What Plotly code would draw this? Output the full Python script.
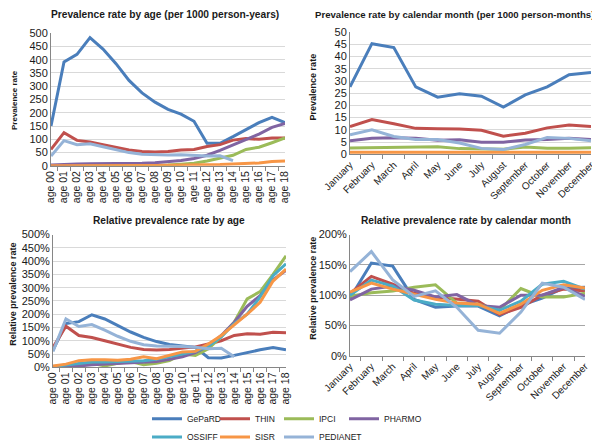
import plotly.graph_objects as go

ages = ["age 00", "age 01", "age 02", "age 03", "age 04", "age 05", "age 06",
        "age 07", "age 08", "age 09", "age 10", "age 11", "age 12", "age 13",
        "age 14", "age 15", "age 16", "age 17", "age 18"]
months = ["January", "February", "March", "April", "May", "June", "July",
          "August", "September", "October", "November", "December"]

# prevalence per 1000 person-years, by age
gepard_age = [150, 392, 420, 483, 440, 385, 322, 275, 240, 213, 195, 168, 85, 85, 110, 137, 163, 183, 163]
thin_age = [62, 125, 96, 90, 80, 70, 60, 54, 52, 54, 60, 62, 73, 80, 97, 103, 100, 105, 105]
ipci_age = [0, 0.5, 1, 1, 1, 1, 1, 1.5, 2, 3, 6, 10, 18, 30, 40, 62, 70, 87, 105]
pharmo_age = [3, 6, 7, 8, 8, 9, 9, 10, 12, 16, 20, 28, 40, 58, 78, 100, 120, 145, 160]
sisr_age = [0, 0.5, 0.5, 0.5, 0.5, 0.5, 0.5, 1, 1, 1.5, 1.5, 2, 3, 5, 7, 9, 11, 16, 18]
pedianet_age = [37, 95, 80, 83, 72, 60, 50, 44, 42, 41, 42, 40, 37, 38, 20, None, None, None, None]

# prevalence per 1000 person-months, by calendar month
gepard_month = [27.6, 45.3, 43.7, 27.6, 23.4, 24.8, 23.8, 19.3, 24.3, 27.6, 32.6, 33.5]
thin_month = [11.3, 14.2, 12.5, 10.6, 10.4, 10.3, 9.8, 7.4, 8.6, 10.8, 12.0, 11.4]
ipci_month = [2.6, 2.7, 2.8, 3.0, 3.1, 2.3, 2.2, 2.0, 3.0, 2.5, 2.5, 2.7]
pharmo_month = [5.5, 6.5, 6.8, 6.5, 5.7, 5.9, 4.9, 4.9, 5.8, 6.0, 6.6, 6.0]
sisr_month = [0.8, 0.8, 0.8, 0.8, 0.8, 0.8, 0.8, 0.8, 0.8, 0.8, 0.8, 0.8]
pedianet_month = [8.0, 10.0, 7.3, 6.0, 6.0, 4.6, 2.4, 1.9, 4.0, 6.9, 6.5, 5.5]

# relative prevalence (%), by age
gepard_rel_age = [65, 165, 172, 198, 182, 158, 133, 113, 97, 86, 80, 75, 36, 35, 45, 56, 66, 75, 66]
thin_rel_age = [75, 155, 120, 112, 100, 87, 75, 67, 65, 67, 73, 77, 88, 100, 120, 126, 125, 132, 130]
ipci_rel_age = [0, 2, 5, 15, 5, 15, 22, 10, 15, 25, 50, 45, 70, 115, 170, 258, 285, 350, 420]
pharmo_rel_age = [2, 3, 5, 10, 12, 15, 18, 20, 22, 30, 40, 55, 80, 120, 170, 230, 270, 330, 365]
ossiff_rel_age = [3, 8, 15, 20, 20, 22, 22, 25, 30, 40, 50, 60, 80, 115, 165, 200, 265, 345, 390]
sisr_rel_age = [5, 12, 25, 28, 28, 27, 30, 40, 32, 45, 58, 60, 88, 120, 160, 200, 245, 325, 370]
pedianet_rel_age = [60, 182, 154, 161, 140, 117, 98, 85, 80, 80, 78, 76, 70, 72, 40, None, None, None, None]

# relative prevalence (%), by calendar month
gepard_rel_month = [95, 153, 148, 93, 80, 82, 82, 66, 83, 95, 112, 113]
thin_rel_month = [103, 131, 118, 103, 97, 94, 90, 68, 80, 100, 110, 107]
ipci_rel_month = [98, 104, 107, 113, 117, 87, 85, 75, 111, 97, 97, 103]
pharmo_rel_month = [92, 110, 115, 108, 97, 101, 83, 80, 100, 100, 113, 98]
ossiff_rel_month = [100, 125, 115, 92, 85, 83, 83, 75, 90, 118, 123, 110]
sisr_rel_month = [105, 120, 110, 102, 93, 87, 85, 70, 85, 108, 117, 112]
pedianet_rel_month = [139, 172, 125, 98, 107, 80, 42, 37, 72, 120, 113, 93]

colors = {
    "GePaRD": "#4A7EBB",
    "THIN": "#C0504D",
    "IPCI": "#9BBB59",
    "PHARMO": "#8064A2",
    "OSSIFF": "#4BACC6",
    "SISR": "#F79646",
    "PEDIANET": "#95B3D7",
}
# one small legend per entry so the two rows line up like the original
legend_slots = {
    "GePaRD": ("legend", 188, 424),
    "THIN": ("legend2", 256, 424),
    "IPCI": ("legend3", 320, 424),
    "PHARMO": ("legend4", 385, 424),
    "OSSIFF": ("legend5", 188, 443),
    "SISR": ("legend6", 256, 443),
    "PEDIANET": ("legend7", 320, 443),
}

FONT = "Liberation Sans, Arial, sans-serif"

fig = go.Figure()


def add_panel(n, cats, series, legend=False):
    xa = "x" if n == 1 else f"x{n}"
    ya = "y" if n == 1 else f"y{n}"
    for name, vals in series:
        fig.add_trace(
            go.Scatter(
                x=cats,
                y=vals,
                name=name,
                mode="lines",
                line={"color": colors[name], "width": 3},
                xaxis=xa,
                yaxis=ya,
                legendgroup=name,
                showlegend=legend,
                legend=legend_slots[name][0],
                connectgaps=False,
            )
        )


add_panel(1, ages, [
    ("GePaRD", gepard_age), ("THIN", thin_age), ("IPCI", ipci_age),
    ("PHARMO", pharmo_age), ("SISR", sisr_age), ("PEDIANET", pedianet_age),
])
add_panel(2, months, [
    ("GePaRD", gepard_month), ("THIN", thin_month), ("IPCI", ipci_month),
    ("PHARMO", pharmo_month), ("SISR", sisr_month), ("PEDIANET", pedianet_month),
])
add_panel(3, ages, [
    ("GePaRD", gepard_rel_age), ("THIN", thin_rel_age), ("IPCI", ipci_rel_age),
    ("PHARMO", pharmo_rel_age), ("OSSIFF", ossiff_rel_age), ("SISR", sisr_rel_age),
    ("PEDIANET", pedianet_rel_age),
], legend=True)
add_panel(4, months, [
    ("GePaRD", gepard_rel_month), ("THIN", thin_rel_month), ("IPCI", ipci_rel_month),
    ("PHARMO", pharmo_rel_month), ("OSSIFF", ossiff_rel_month), ("SISR", sisr_rel_month),
    ("PEDIANET", pedianet_rel_month),
])


def px_x(p):
    return p / 600


def px_y(p):
    return 1 - p / 444


def xaxis(x0, x1, anchor, angle, size):
    return dict(
        domain=[px_x(x0), px_x(x1)], anchor=anchor, type="category",
        tickangle=angle, showline=True, linecolor="#868686", linewidth=1,
        ticks="outside", ticklen=4, tickcolor="#868686", tickson="boundaries",
        dtick=1, showgrid=False, tickfont={"size": size}, automargin=False,
        fixedrange=True,
    )


def yaxis(y_top, y_bot, anchor, rng, dtick, suffix="", grid="#D9D9D9"):
    return dict(
        domain=[px_y(y_bot), px_y(y_top)], anchor=anchor, range=rng, dtick=dtick,
        ticksuffix=suffix, showline=True, linecolor="#868686", linewidth=1,
        showgrid=True, gridcolor=grid, gridwidth=1, zeroline=False,
        ticks="", tickfont={"size": 11}, automargin=False, fixedrange=True,
    )


titles = [
    ("Prevalence rate by age (per 1000 person-years)", 157, 7, 10.2),
    ("Prevalence rate by calendar month (per 1000 person-months)", 446, 7, 9.6),
    ("Relative prevalence rate by age", 161, 219, 10.2),
    ("Relative prevalence rate by calendar month", 458, 219, 10.2),
]
annotations = [
    dict(text=f"<b>{t}</b>", x=px_x(cx), y=px_y(cy), xref="paper", yref="paper",
         showarrow=False, xanchor="center", yanchor="middle", font={"size": s})
    for t, cx, cy, s in titles
]

ytitles = [
    ("Prevalence rate", 6, 95, 8),
    ("Prevalence rate", 305, 82, 9),
    ("Relative prevalence rate", 5, 296, 9),
    ("Relative prevalence rate", 305, 290, 9),
]
annotations += [
    dict(text=f"<b>{t}</b>", x=px_x(cx), y=px_y(cy), xref="paper", yref="paper",
         showarrow=False, xanchor="center", yanchor="middle", textangle=-90,
         font={"size": s})
    for t, cx, cy, s in ytitles
]

legends = {}
for key, tx, ty in legend_slots.values():
    legends[key] = dict(
        orientation="h", x=px_x(tx - 49), y=px_y(ty), xanchor="left", yanchor="middle",
        font={"size": 8.5}, bgcolor="rgba(0,0,0,0)", itemwidth=30,
    )

fig.update_layout(
    width=600,
    height=444,
    margin={"l": 0, "r": 0, "t": 0, "b": 0},
    paper_bgcolor="white",
    plot_bgcolor="white",
    font={"family": FONT, "size": 11, "color": "#1a1a1a"},
    xaxis=xaxis(43, 277, "y", -90, 10.5),
    yaxis=yaxis(26, 163, "x", [0, 500], 50),
    xaxis2=xaxis(342, 583, "y2", -45, 10),
    yaxis2=yaxis(25, 151, "x2", [0, 50], 5),
    xaxis3=xaxis(45, 278, "y3", -90, 10.5),
    yaxis3=yaxis(234, 371, "x3", [0, 500], 50, suffix="%"),
    xaxis4=xaxis(342, 577, "y4", -45, 10),
    yaxis4=yaxis(234, 359, "x4", [0, 200], 50, suffix="%", grid="#A6A6A6"),
    annotations=annotations,
    showlegend=True,
    **legends,
)

fig.write_html("out.html")
